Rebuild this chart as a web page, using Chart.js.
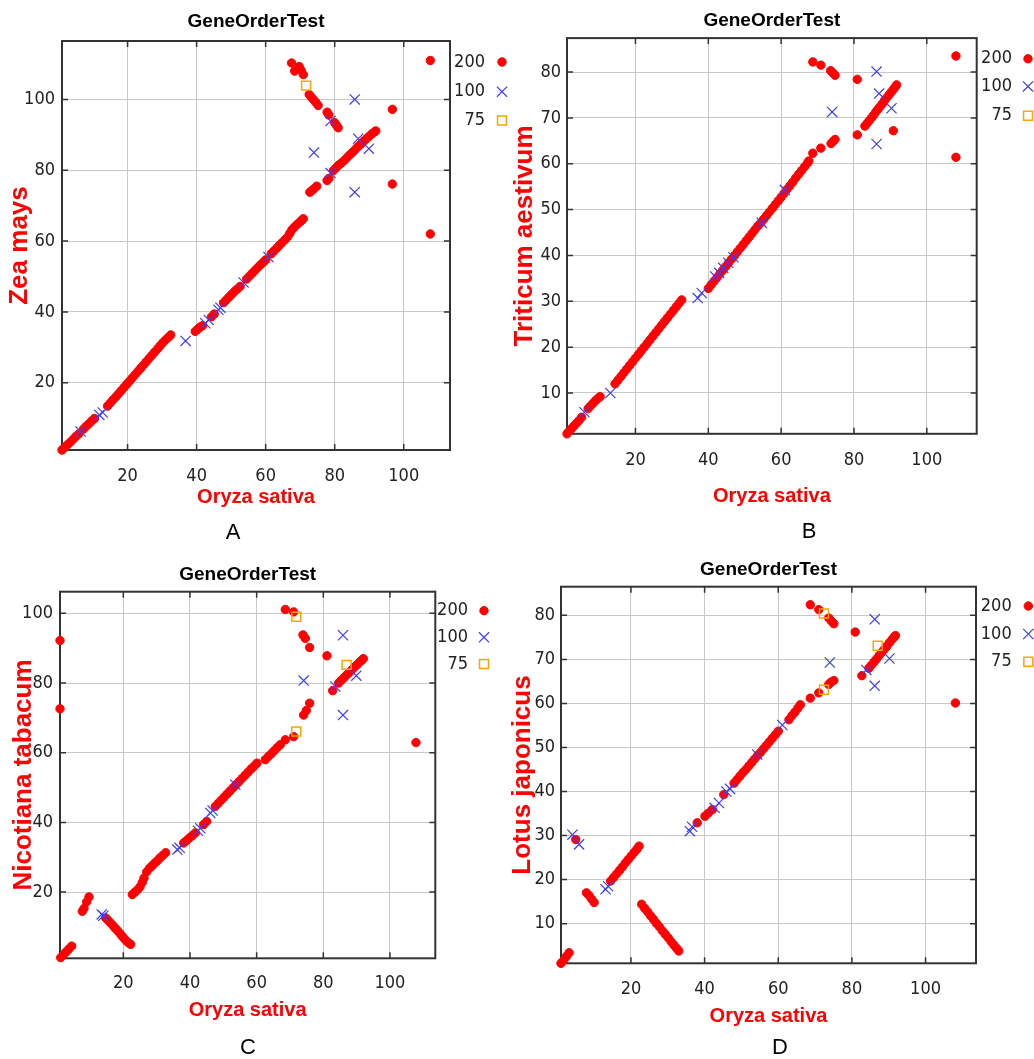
<!DOCTYPE html>
<html lang="en">
<head>
<meta charset="UTF-8">
<title>GeneOrderTest</title>
<script src="https://cdn.jsdelivr.net/npm/chart.js"></script>
<style>
  body { margin: 0; background: #fff; }
  #wrap { position: relative; width: 1034px; height: 1059px; overflow: hidden; }
  canvas { position: absolute; }
  .tag { position: absolute; font: 22px 'Liberation Sans', Arial, sans-serif; color: #000;
         transform: translate(-50%, -50%); line-height: 1; }
</style>
</head>
<body>
<div id="wrap">
  <canvas id="cA" width="517" height="540" style="left:0;top:0"></canvas>
  <canvas id="cB" width="529" height="540" style="left:505px;top:0"></canvas>
  <canvas id="cC" width="517" height="519" style="left:0;top:540px"></canvas>
  <canvas id="cD" width="529" height="519" style="left:505px;top:540px"></canvas>
  <div class="tag" style="left:233px;top:532px">A</div>
  <div class="tag" style="left:809px;top:531px">B</div>
  <div class="tag" style="left:248px;top:1047px">C</div>
  <div class="tag" style="left:780px;top:1047px">D</div>
</div>
<script>
// ---- data (Oryza sativa position vs. other genome position) ----
const seriesLabels = ['200', '100', '75'];
const xTicks = [20, 40, 60, 80, 100];
const yTicksA = [20, 40, 60, 80, 100];
const yTicksB = [10, 20, 30, 40, 50, 60, 70, 80];
const yTicksC = [20, 40, 60, 80, 100];
const yTicksD = [10, 20, 30, 40, 50, 60, 70, 80];

// A: Zea mays
const aRed = [
  [1,1],[1.8,1.7],[2.6,2.5],[3.4,3.2],[4.2,4],[5,4.8],[5.8,5.5],
  [7.2,6.9],[8,7.7],[8.8,8.4],[9.6,9.2],[10.4,9.9],
  [14.2,13.4],[15,14.3],[15.8,15.2],[16.6,16],[17.4,16.9],[18.2,17.8],[19,18.7],[19.8,19.6],
  [20.6,20.5],[21.4,21.4],[22.2,22.3],[23,23.2],[23.8,24.1],[24.6,25],[25.4,25.9],[26.2,26.8],
  [27,27.7],[27.8,28.6],[28.6,29.5],[29.4,30.4],[30.2,31.3],[31,32.1],[31.8,32.8],[32.5,33.5],
  [39.6,34.5],[40.3,35.1],[41,35.7],[41.7,36.1],[44.3,38.6],[45.1,39.4],
  [47.8,42.6],[48.6,43.4],[49.4,44.2],[50.2,45],[51,45.8],[51.8,46.5],[52.6,47.2],
  [54.5,49.3],[55.3,50.1],[56.1,50.9],[56.9,51.7],[57.7,52.5],[58.5,53.3],[59.3,54],[60,54.7],
  [61.6,56.4],[62.4,57.2],[63.2,58],[64,58.8],[64.8,59.6],[65.6,60.4],[66.4,61.2],[67,62.2],
  [67.6,63.2],[68.3,63.9],[69,64.6],[69.7,65.2],[70.4,65.8],[70.9,66.3],
  [72.8,73.8],[73.4,74.3],[74,74.8],[74.8,75.5],[77.8,77.1],[78.3,77.7],
  [79.6,79.9],[80.4,80.7],[81.2,81.5],[82,82.1],[82.8,82.8],[83.6,83.6],[84.4,84.4],[85.2,85.1],
  [86,85.9],[86.8,86.7],[87.6,87.4],[88.4,88.2],[89.2,88.9],[90,89.6],[90.8,90.3],[91.5,90.8],[91.9,91.1],
  [67.5,110.3],[68.4,108],[69.7,109.3],[70.3,108.2],[70.9,107],[72.6,101.4],[73.2,100.7],[73.8,100],
  [74.5,99.2],[75.2,98.3],[77.8,96.4],[78.3,95.6],[80,93.4],[80.5,92.7],[81,92],
  [107.7,111],[96.7,97.2],[96.7,76.1],[107.7,62]
];
const aBlue = [
  [6.4,6.2],[11.8,10.9],[12.8,11.6],[36.8,31.8],[42.5,36.8],[43.5,37.7],[46.3,40.6],[46.9,41.2],
  [53.6,48.3],[60.8,55.5],[74,85],[78.8,79.2],[78.8,93.9],[85.8,100],[85.8,73.8],[86.8,88.9],[89.9,86.1]
];
const aOrange = [[71.7,103.9]];

// B: Triticum aestivum
const bRed = [
  [1.2,1.1],[1.7,1.6],[2.4,2.2],[3.1,2.8],[3.8,3.4],[4.5,4],[5.2,4.7],
  [7,6.6],[7.7,7.2],[8.4,7.8],[9.1,8.4],[9.8,8.9],[10.3,9.2],
  [14.4,12],[15.2,12.8],[16,13.6],[16.8,14.4],[17.6,15.2],[18.4,16],[19.2,16.8],[20,17.6],
  [20.8,18.4],[21.6,19.2],[22.4,20],[23.2,20.8],[24,21.6],[24.8,22.4],[25.6,23.2],[26.4,24],
  [27.2,24.8],[28,25.6],[28.8,26.4],[29.6,27.2],[30.4,28],[31.2,28.8],[32,29.6],[32.7,30.3],
  [40,32.8],[40.8,33.6],[41.6,34.4],[42.4,35.2],[43.2,36],[44,36.8],[44.8,37.6],[45.6,38.4],
  [46.4,39.2],[47.2,40],[48,40.8],[48.8,41.6],[49.6,42.4],[50.4,43.2],[51.2,44],[52,44.8],
  [52.8,45.6],[53.6,46.4],[54.4,47.1],[55.2,47.9],[56,48.7],[56.8,49.5],[57.6,50.3],[58.4,51.1],
  [59.2,51.9],[60,52.7],[60.8,53.5],[61.6,54.4],[62.4,55.2],[63.2,56],[64,56.9],[64.8,57.7],
  [65.6,58.5],[66.4,59.3],[67.2,60.1],[67.6,60.6],
  [68.7,62.3],[70.9,63.4],[73.7,64.4],[74.3,64.9],[74.8,65.3],
  [68.7,82.2],[70.9,81.5],[73.6,80.3],[74.2,79.8],[74.8,79.3],[80.9,78.4],
  [80.9,66.3],[83,68.2],[83.6,68.8],[84.2,69.4],[84.8,70],[85.4,70.6],[86,71.3],[86.6,71.9],
  [87.2,72.5],[87.8,73.1],[88.4,73.8],[89,74.4],[89.6,75],[90.2,75.6],[90.8,76.2],[91.3,76.7],[91.7,77.2],
  [90.8,67.2],[108,83.5],[108,61.4]
];
const bBlue = [
  [6,5.8],[13.1,10],[37.1,30.7],[38.2,31.8],[41.9,35.4],[43,36.2],[44.1,37.3],[45.5,38.4],
  [46.9,39.6],[54.7,47.1],[61,54.3],[74,71.3],[86.2,80.1],[86.9,75.3],[90.3,72.1],[86.2,64.3]
];
const bOrange = [];

// C: Nicotiana tabacum
const cRed = [
  [1.2,1.2],[2,2],[2.8,2.8],[3.6,3.6],[4.5,4.5],
  [1,92.2],[1,72.6],
  [7.7,14.5],[8.2,15.3],[9,17.2],[9.7,18.6],
  [14.7,12.6],[15.4,11.9],[16.1,11.2],[16.8,10.5],[17.5,9.7],[18.2,9],[18.9,8.2],[19.6,7.4],
  [20.3,6.6],[21,5.9],[21.6,5.4],[22.2,5],
  [22.7,19.3],[23.5,20],[24.3,20.7],[25,21.5],[25.7,22.8],[26.2,24],[27,25.8],[27.8,26.8],
  [28.6,27.5],[29.4,28.3],[30.2,29],[31,29.8],[31.8,30.5],[32.7,31.3],
  [38.1,34.1],[39,34.8],[39.8,35.5],[40.7,36.2],[41.6,37],
  [44.1,39.4],[45,40.3],
  [47.6,44.6],[48.5,45.5],[49.4,46.4],[50.3,47.3],[51.2,48.2],[52.1,49.1],[53,50],[53.9,50.9],
  [54.8,51.8],[55.7,52.7],[56.6,53.6],[57.5,54.5],[58.4,55.4],[59.3,56.2],[60.1,57],
  [62.6,58],[63.5,58.9],[64.4,59.7],[65.3,60.6],[66.2,61.5],[67.1,62.3],[68.6,63.7],[71.1,64.6],
  [68.6,101.1],[71.1,100.4],[73.9,93.8],[74.6,92.8],[75.9,90.2],[81.1,87.8],
  [74.1,70.8],[74.9,72.1],[75.9,74.2],
  [82.8,77.8],[84.6,80],[85.4,80.8],[86.2,81.5],[87,82.3],[87.8,83],[88.6,83.8],[89.4,84.6],
  [90.2,85.3],[91,86.1],[91.6,86.6],[92,87],
  [107.8,62.9]
];
const cBlue = [
  [13.5,13.6],[14,13.2],[36.2,32.2],[36.9,32.7],[42.4,37.6],[43.1,38.3],[46.1,42.7],[46.8,43.4],
  [53.6,50.8],[74.1,80.7],[85.9,93.7],[85.9,70.8],[89.9,82.1],[83.6,79]
];
const cOrange = [[71.9,66.1],[71.9,99],[87,85.2]];

// D: Lotus japonicus
const dRed = [
  [1,1],[1.8,1.8],[2.5,2.6],[3.2,3.4],
  [5,29.1],
  [7.9,17],[8.6,16.4],[9.3,15.6],[10,14.8],
  [14.5,19.7],[15.3,20.5],[16.1,21.3],[16.9,22.1],[17.7,22.9],[18.5,23.8],[19.3,24.6],[20.1,25.4],
  [20.9,26.2],[21.6,26.9],[22.2,27.6],
  [22.9,14.4],[23.7,13.5],[24.5,12.7],[25.3,11.8],[26.1,11],[26.9,10.1],[27.7,9.3],[28.5,8.4],
  [29.3,7.6],[30.1,6.8],[30.9,5.9],[31.7,5.1],[32.4,4.4],[33,3.8],
  [38,32.9],[40.1,34.4],[41,35.1],[42.1,35.9],
  [45.2,39.3],
  [48,41.9],[48.8,42.7],[49.6,43.5],[50.4,44.3],[51.2,45],[52,45.8],[52.8,46.6],[53.6,47.4],
  [54.4,48.2],[55.2,48.9],[56,49.7],[56.8,50.5],[57.6,51.3],[58.4,52.1],[59.2,52.9],[60,53.7],
  [62.9,56.3],[63.7,57.2],[64.5,58],[65.3,58.9],[66,59.7],
  [68.7,61.2],[71,62.4],[73.7,64.3],[74.3,64.8],[75.1,65.2],
  [68.7,82.4],[71,81.3],[73.7,79.4],[74.4,78.7],[75.1,78.1],[80.9,76.2],
  [82.7,66.3],[84.6,68],[85.3,68.7],[86,69.4],[86.7,70.1],[87.4,70.9],[88.1,71.6],[88.8,72.3],
  [89.5,73],[90.2,73.8],[90.9,74.5],[91.4,75],[91.8,75.4],
  [108.1,60.1]
];
const dBlue = [
  [4.1,30.2],[5.9,28],[13.1,17.8],[13.8,18.5],[36,31],[36.6,32],[42.7,36.3],[43.9,37.4],
  [45.9,40],[46.9,40.6],[54.3,48.4],[61.1,55.1],[74,69.3],[86.2,79.1],[86.2,64],[90.2,70.2],[83.9,67.6]
];
const dOrange = [[72.4,63.1],[72.4,80.4],[87,73.1]];

// ---- styling ----
const RED = '#ff0000';
const BLUE = '#3c3cff';
const ORANGE = '#ffa500';
const NARROW = "'Liberation Sans Narrow', 'Arial Narrow', 'DejaVu Sans Condensed', 'Liberation Sans', sans-serif";
const SANS = "'Liberation Sans', Arial, sans-serif";

const toPts = arr => arr.map(p => ({ x: p[0], y: p[1] }));

// plot frame with short inner tick marks
const frame = {
  id: 'frame',
  beforeDatasetsDraw(chart) {
    const { ctx, chartArea: a, scales } = chart;
    ctx.save();
    ctx.strokeStyle = '#333';
    ctx.lineWidth = 1.5;
    ctx.beginPath();
    scales.x.ticks.forEach(t => {
      const px = scales.x.getPixelForValue(t.value);
      ctx.moveTo(px, a.top); ctx.lineTo(px, a.top + 6);
      ctx.moveTo(px, a.bottom); ctx.lineTo(px, a.bottom - 6);
    });
    scales.y.ticks.forEach(t => {
      const py = scales.y.getPixelForValue(t.value);
      ctx.moveTo(a.left, py); ctx.lineTo(a.left + 6, py);
      ctx.moveTo(a.right, py); ctx.lineTo(a.right - 6, py);
    });
    ctx.stroke();
    ctx.lineWidth = 2;
    ctx.strokeRect(a.left, a.top, a.right - a.left, a.bottom - a.top);
    ctx.restore();
  }
};

// legend on the right: label text then marker
const sideLegend = {
  id: 'sideLegend',
  afterDraw(chart, args, o) {
    const ctx = chart.ctx;
    ctx.save();
    chart.data.datasets.forEach((ds, i) => {
      const y = o.rows[i];
      ctx.font = '18px ' + NARROW;
      ctx.textAlign = 'right';
      ctx.textBaseline = 'middle';
      ctx.fillStyle = '#222';
      ctx.fillText(ds.label, o.textX, y);
      ctx.fillStyle = ds.backgroundColor;
      ctx.strokeStyle = ds.borderColor;
      ctx.lineWidth = ds.borderWidth;
      Chart.helpers.drawPoint(ctx, {
        pointStyle: ds.pointStyle, radius: ds.pointRadius, borderWidth: ds.borderWidth, rotation: 0
      }, o.markX, y);
    });
    ctx.restore();
  }
};

function panel(id, c) {
  const grid = { color: '#c8c8c8', lineWidth: 1, drawTicks: false };
  new Chart(document.getElementById(id), {
    type: 'scatter',
    data: {
      datasets: [
        { label: seriesLabels[0], data: toPts(c.red), pointStyle: 'circle', pointRadius: 4.2,
          backgroundColor: RED, borderColor: RED, borderWidth: 1, order: 3, clip: false },
        { label: seriesLabels[1], data: toPts(c.blue), pointStyle: 'crossRot', pointRadius: 7.2,
          backgroundColor: BLUE, borderColor: BLUE, borderWidth: 1.2, order: 1, clip: false },
        { label: seriesLabels[2], data: toPts(c.orange), pointStyle: 'rect', pointRadius: 6.3,
          backgroundColor: 'rgba(0,0,0,0)', borderColor: ORANGE, borderWidth: 1.5, order: 2, clip: false }
      ]
    },
    options: {
      responsive: false,
      animation: false,
      devicePixelRatio: 1,
      layout: { padding: { left: 0, right: c.padR, top: 0, bottom: 0 } },
      plugins: {
        legend: { display: false },
        tooltip: { enabled: false },
        title: {
          display: true, text: 'GeneOrderTest', fullSize: false, color: '#000',
          font: { family: SANS, size: 19, weight: 'bold' },
          padding: { top: c.tTop, bottom: c.tBot }
        },
        sideLegend: c.legend
      },
      scales: {
        x: {
          type: 'linear', position: 'bottom', min: c.xMin, max: c.xMax,
          afterBuildTicks: s => { s.ticks = xTicks.map(v => ({ value: v })); },
          afterFit: s => { s.height = c.xH; },
          grid: grid, border: { display: false },
          ticks: { font: { family: NARROW, size: 18 }, color: '#222', padding: c.xTickPad,
                   maxRotation: 0, autoSkip: false },
          title: { display: true, text: 'Oryza sativa', color: RED,
                   font: { family: SANS, size: 20, weight: 'bold' },
                   padding: { top: 0, bottom: c.xTitlePad } }
        },
        y: {
          type: 'linear', position: 'left', min: c.yMin, max: c.yMax,
          afterBuildTicks: s => { s.ticks = c.yTicks.map(v => ({ value: v })); },
          afterFit: s => { s.width = c.yW; },
          grid: grid, border: { display: false },
          ticks: { font: { family: NARROW, size: 18 }, color: '#222', padding: c.yTickPad, autoSkip: false },
          title: { display: true, text: c.yTitle, color: RED,
                   font: { family: SANS, size: 26, weight: 'bold' },
                   padding: { top: c.yTitlePad, bottom: 0 } }
        }
      }
    },
    plugins: [frame, sideLegend]
  });
}

panel('cA', {
  red: aRed, blue: aBlue, orange: aOrange, yTicks: yTicksA, yTitle: 'Zea mays',
  xMin: 1, xMax: 113.4, yMin: 1, yMax: 116.5,
  yW: 62, padR: 67, tTop: 10.8, tBot: 7.4, xH: 90,
  xTickPad: 16, xTitlePad: 31, yTickPad: 7, yTitlePad: 4.4,
  legend: { textX: 485, markX: 502, rows: [62, 91.7, 120.5] }
});
panel('cB', {
  red: bRed, blue: bBlue, orange: bOrange, yTicks: yTicksB, yTitle: 'Triticum aestivum',
  xMin: 1.2, xMax: 113.7, yMin: 1.1, yMax: 87.4,
  yW: 62, padR: 57.3, tTop: 9.5, tBot: 5.8, xH: 106.2,
  xTickPad: 16, xTitlePad: 32, yTickPad: 6, yTitlePad: 4.4,
  legend: { textX: 507, markX: 523, rows: [58.8, 86.4, 115.8] }
});
panel('cC', {
  red: cRed, blue: cBlue, orange: cOrange, yTicks: yTicksC, yTitle: 'Nicotiana tabacum',
  xMin: 1, xMax: 113.6, yMin: 1, yMax: 106.2,
  yW: 60, padR: 81.7, tTop: 23.8, tBot: 5.1, xH: 100.7,
  xTickPad: 14.4, xTitlePad: 37, yTickPad: 7, yTitlePad: 8.4,
  legend: { textX: 468, markX: 484, rows: [70.7, 97.3, 124] }
});
panel('cD', {
  red: dRed, blue: dBlue, orange: dOrange, yTicks: yTicksD, yTitle: 'Lotus japonicus',
  xMin: 1, xMax: 113.7, yMin: 1, yMax: 86.5,
  yW: 56, padR: 58, tTop: 18.1, tBot: 5.8, xH: 95.7,
  xTickPad: 15, xTitlePad: 30.3, yTickPad: 6, yTitlePad: 2.7,
  legend: { textX: 506.7, markX: 523.3, rows: [66, 94, 121.7] }
});
</script>
</body>
</html>
